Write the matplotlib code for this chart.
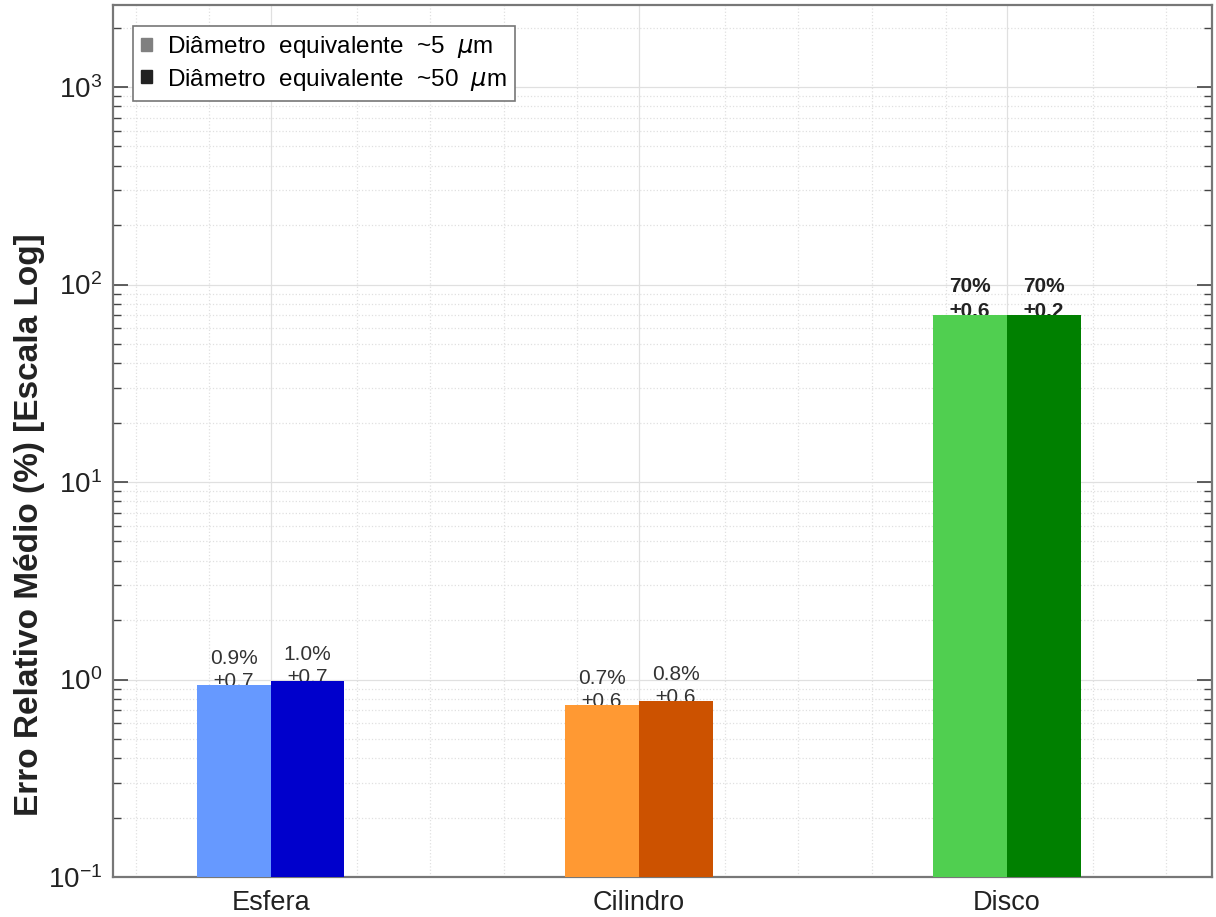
import numpy as np
import matplotlib.pyplot as plt
from matplotlib.patches import Patch
from matplotlib.ticker import FixedLocator, NullFormatter

plt.rcParams['font.family'] = ['Liberation Sans', 'DejaVu Sans']

# dados
formas = ['Esfera', 'Cilindro', 'Disco']
erro_5um = [0.94, 0.74, 69.7]
erro_50um = [0.98, 0.78, 69.7]
desvio_5um = [0.7, 0.6, 0.6]
desvio_50um = [0.7, 0.6, 0.2]
cores_5um = ['#6699FF', '#FF9933', '#50CF50']
cores_50um = ['#0000CC', '#CC5200', '#008000']
legenda = ['Diâmetro  equivalente  ~5  $\\mu$m', 'Diâmetro  equivalente  ~50  $\\mu$m']

fig = plt.figure(figsize=(12.16, 9.17), dpi=100)
ax = fig.add_axes([0.0929, 0.0436, 0.9038, 0.9509])

x = np.arange(1, len(formas) + 1)
w = 0.2
ax.bar(x - w / 2, erro_5um, w, color=cores_5um, zorder=3)
ax.bar(x + w / 2, erro_50um, w, color=cores_50um, zorder=3)

# rotulos em cima das barras
for i in range(len(formas)):
    for xi, v, d in [(x[i] - w / 2, erro_5um[i], desvio_5um[i]),
                     (x[i] + w / 2, erro_50um[i], desvio_50um[i])]:
        if v > 10:
            txt = f'{v:.0f}%\n±{d:.1f}'
            peso, cor = 'bold', '#222222'
            ls = 1.4
        else:
            txt = f'{v:.1f}%\n±{d:.1f}'
            peso, cor = 'normal', '#333333'
            ls = 1.25
        ax.text(xi, v / 1.07, txt, ha='center', va='bottom', fontsize=15,
                fontweight=peso, color=cor, linespacing=ls, zorder=2)

ax.set_yscale('log')
ax.set_ylim(0.1, 2600)
ax.set_xlim(0.571, 3.557)
ax.set_xticks(x)
ax.set_xticklabels(formas, fontsize=19.5, color='#222222')
ax.set_yticks([0.1, 1, 10, 100, 1000])
ax.tick_params(axis='y', labelsize=20, labelcolor='#222222')

# minor ticks do eixo x
menores = np.arange(0.633, 3.55, 0.2)
menores = [m for m in menores if abs(m - round(m)) > 0.05]
ax.xaxis.set_minor_locator(FixedLocator(menores))
ax.xaxis.set_minor_formatter(NullFormatter())

ax.tick_params(which='both', direction='in', top=True, right=True, color='#444444')
ax.tick_params(which='major', length=11, width=1.2, pad=8)
ax.tick_params(which='minor', length=6, width=1.0)
ax.tick_params(axis='x', which='both', length=0, pad=9)

ax.grid(True, which='major', color='#e0e0e0', linewidth=0.9, zorder=0)
ax.grid(True, which='minor', color='#e0e0e0', linestyle=':', linewidth=0.9, zorder=0)
ax.set_axisbelow(True)
for s in ax.spines.values():
    s.set_color('#777777')
    s.set_linewidth(1.6)

ax.set_ylabel('Erro Relativo Médio (%) [Escala Log]', fontsize=24,
              fontweight='bold', color='#222222')
ax.yaxis.set_label_coords(-0.062, 0.404)

handles = [Patch(color='#808080'), Patch(color='#222222')]
leg = ax.legend(handles, legenda, loc='upper left', fontsize=17.5, fancybox=False,
                framealpha=1, edgecolor='#777777', handlelength=0.45, handleheight=0.45,
                handletextpad=0.6, borderpad=0.35, labelspacing=0.25,
                borderaxespad=0, bbox_to_anchor=(0.018, 0.976))
leg.get_frame().set_linewidth(1.2)

plt.savefig('out.png', dpi=100)
